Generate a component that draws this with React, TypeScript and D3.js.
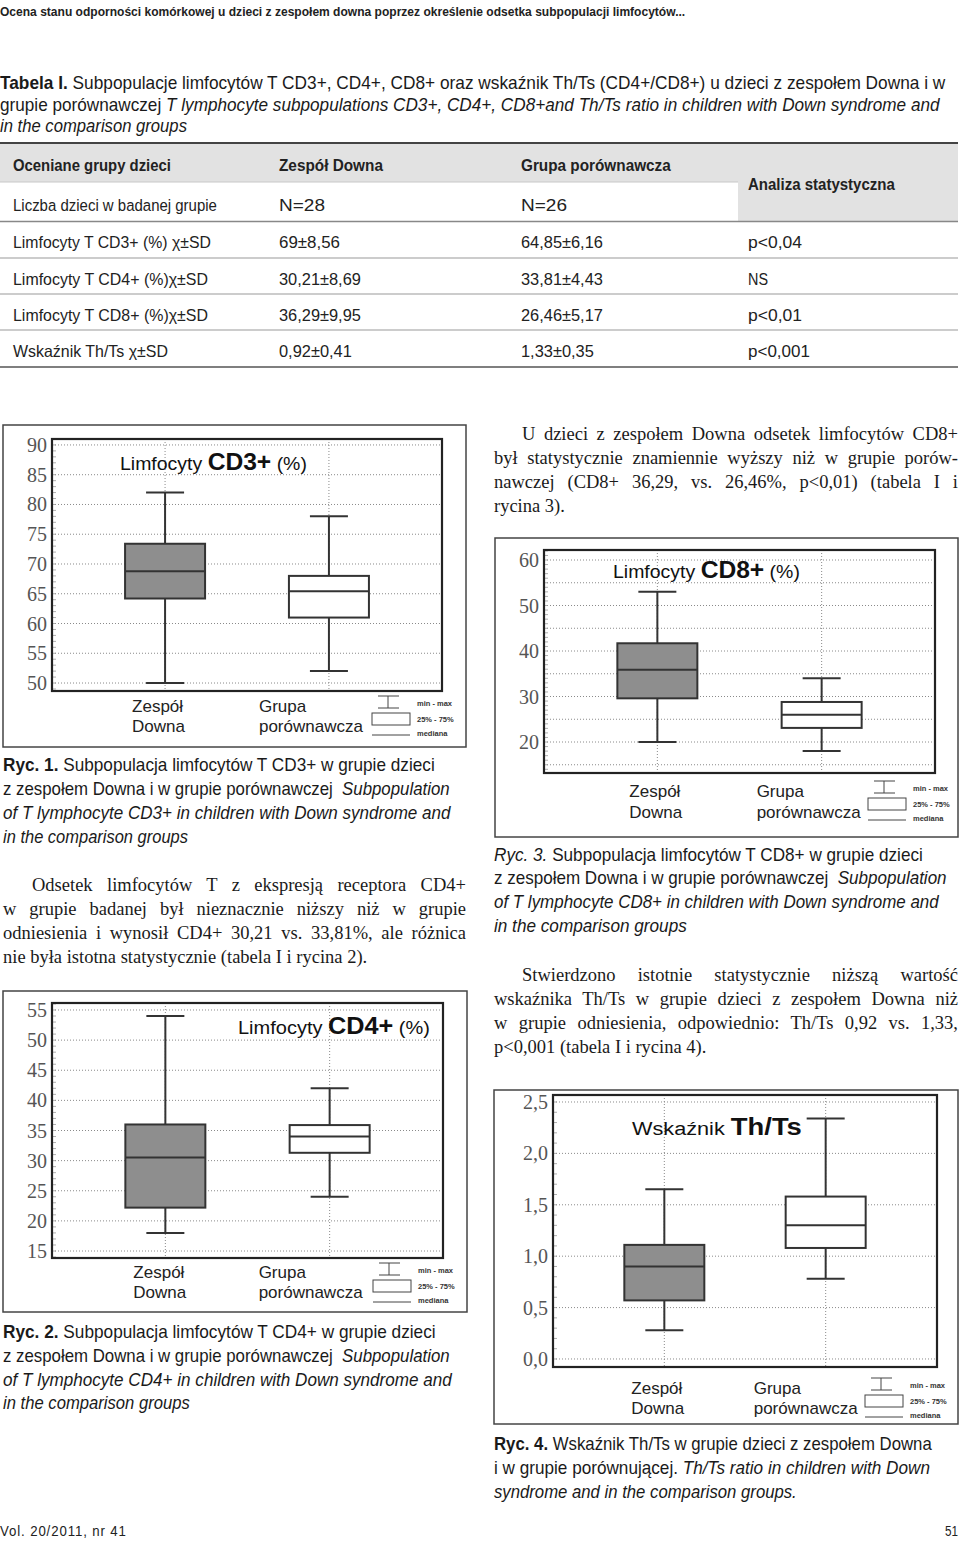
import React, { useLayoutEffect, useRef } from "react";
import * as d3 from "d3";

// ---------------- DATA ----------------
const groups = ["Zespół Downa", "Grupa porównawcza"];
const groupLabelLines = [["Zespół", "Downa"], ["Grupa", "porównawcza"]];
const legendLabels = ["min - max", "25% - 75%", "mediana"];

type Stat = { min: number; q1: number; median: number; q3: number; max: number };

const cd3Stats: Stat[] = [
  { min: 50, q1: 64.2, median: 68.8, q3: 73.4, max: 82 },
  { min: 52, q1: 61, median: 65.4, q3: 68, max: 78 },
];
const cd4Stats: Stat[] = [
  { min: 18, q1: 22.2, median: 30.5, q3: 36, max: 54 },
  { min: 24, q1: 31.3, median: 34, q3: 35.9, max: 42 },
];
const cd8Stats: Stat[] = [
  { min: 20, q1: 29.6, median: 35.9, q3: 41.7, max: 53 },
  { min: 18, q1: 23.1, median: 26, q3: 28.8, max: 34 },
];
const thtsStats: Stat[] = [
  { min: 0.28, q1: 0.57, median: 0.9, q3: 1.11, max: 1.65 },
  { min: 0.78, q1: 1.08, median: 1.3, q3: 1.58, max: 2.34 },
];

const cd3Ticks = [50, 55, 60, 65, 70, 75, 80, 85, 90];
const cd4Ticks = [15, 20, 25, 30, 35, 40, 45, 50, 55];
const cd8Ticks = [20, 30, 40, 50, 60];
const cd8Grid = [15, 20, 25, 30, 35, 40, 45, 50, 55, 60];
const thtsTicks = [0, 0.5, 1, 1.5, 2, 2.5];

const titleCD3 = ["Limfocyty ", "CD3+", " (%)"];
const titleCD4 = ["Limfocyty ", "CD4+", " (%)"];
const titleCD8 = ["Limfocyty ", "CD8+", " (%)"];
const titleThTs = ["Wskaźnik ", "Th/Ts", ""];

const tableHeader = ["Oceniane grupy dzieci", "Zespół Downa", "Grupa porównawcza"];
const tableStatHeader = "Analiza statystyczna";
const tableCount = ["Liczba dzieci w badanej grupie", "N=28", "N=26"];
const tableRows = [
  ["Limfocyty T CD3+ (%) χ±SD", "69±8,56", "64,85±6,16", "p<0,04"],
  ["Limfocyty T CD4+ (%)χ±SD", "30,21±8,69", "33,81±4,43", "NS"],
  ["Limfocyty T CD8+ (%)χ±SD", "36,29±9,95", "26,46±5,17", "p<0,01"],
  ["Wskaźnik Th/Ts χ±SD", "0,92±0,41", "1,33±0,35", "p<0,001"],
];

// ---------------- FONTS / LAYOUT ----------------
const NARROW = "'Liberation Sans Narrow', 'Arial Narrow', 'Liberation Sans', Arial, sans-serif";
const SANS = "'Liberation Sans', Arial, sans-serif";
const SERIF = "'Liberation Serif', 'Times New Roman', serif";

type Seg = { t: string; b?: boolean; i?: boolean; size?: number };

function Txt({ x, y, segs, size, family, fill = "#1a1a1a", w, mode = "scale", anchor = "start", weight, ls }: any) {
  const ref = useRef<SVGTextElement>(null);
  useLayoutEffect(() => {
    const fit = () => {
      const el = ref.current;
      if (!el || !w) return;
      el.removeAttribute("transform");
      el.style.wordSpacing = "";
      const len = el.getComputedTextLength();
      if (!(len > 0)) return;
      if (mode === "justify") {
        const txt = el.textContent || "";
        const n = (txt.match(/ /g) || []).length;
        if (n > 0) el.style.wordSpacing = (w - len) / n + "px";
      } else {
        const s = w / len;
        el.setAttribute("transform", `translate(${x} 0) scale(${s} 1) translate(${-x} 0)`);
      }
    };
    fit();
    (document as any).fonts?.ready?.then(fit);
  });
  const list: Seg[] = typeof segs === "string" ? [{ t: segs }] : segs;
  return (
    <text ref={ref} x={x} y={y} fontSize={size} fontFamily={family} fill={fill} textAnchor={anchor}
      fontWeight={weight} letterSpacing={ls} style={{ whiteSpace: "pre" }}>
      {list.map((s, i) => (
        <tspan key={i} fontWeight={s.b ? "bold" : undefined} fontStyle={s.i ? "italic" : undefined} fontSize={s.size}>
          {s.t}
        </tspan>
      ))}
    </text>
  );
}

const intFmt = (v: number) => String(v);
const commaFmt = (v: number) => d3.format(".1f")(v).replace(".", ",");

const charts = [
  {
    key: "cd3", stats: cd3Stats, ticks: cd3Ticks, grid: cd3Ticks, fmt: intFmt, minor: 1,
    frame: [3, 425, 466, 747], plot: [52, 439, 442, 691], domain: [48.66, 91.0],
    title: { x: 120, y: 470, w: 187, parts: titleCD3 },
    lab: { dx: [-33, -70], y1: 21, y2: 41 }, leg: { dx: -70, dy: 5 },
  },
  {
    key: "cd4", stats: cd4Stats, ticks: cd4Ticks, grid: cd4Ticks, fmt: intFmt, minor: 1,
    frame: [3, 991, 467, 1312], plot: [52, 1003, 443, 1258], domain: [13.84, 56.16],
    title: { x: 238, y: 1034, w: 192, parts: titleCD4 },
    lab: { dx: [-32, -71], y1: 20, y2: 40 }, leg: { dx: -70, dy: 5 },
  },
  {
    key: "cd8", stats: cd8Stats, ticks: cd8Ticks, grid: cd8Grid, fmt: intFmt, minor: 1,
    frame: [495, 538, 958, 837], plot: [544, 550, 935, 773], domain: [13.19, 62.2],
    title: { x: 613, y: 578, w: 187, parts: titleCD8 },
    lab: { dx: [-28, -65], y1: 24, y2: 45 }, leg: { dx: -67, dy: 8 },
  },
  {
    key: "thts", stats: thtsStats, ticks: thtsTicks, grid: thtsTicks, fmt: commaFmt, minor: 0.1,
    frame: [494, 1090, 958, 1424], plot: [553, 1095, 937, 1367], domain: [-0.078, 2.568],
    title: { x: 632, y: 1135, w: 170, parts: titleThTs },
    lab: { dx: [-33, -72], y1: 27, y2: 47 }, leg: { dx: -72, dy: 11 },
  },
];

function BoxChart({ c }: any) {
  const [fl, ft, fr, fb] = c.frame;
  const [pl, pt, pr, pb] = c.plot;
  const y = d3.scaleLinear().domain(c.domain).range([pb, pt]);
  const x = d3.scalePoint<string>().domain(groups).range([pl, pr]).padding(0.69);
  const boxW = 80;
  const capW = 38;
  const ink = "#333";
  const lx = pr + c.leg.dx;
  const ly = pb + c.leg.dy;
  const minorTicks = d3
    .range(Math.ceil(c.domain[0] / c.minor), Math.floor(c.domain[1] / c.minor) + 1)
    .map((k: number) => k * c.minor);
  return (
    <g>
      <rect x={fl} y={ft} width={fr - fl} height={fb - ft} fill="#fff" stroke="#444" strokeWidth={1.5} />
      {c.grid.map((t: number) => (
        <line key={"g" + t} x1={pl} x2={pr} y1={y(t)} y2={y(t)} stroke="#8a8a8a" strokeWidth={1} strokeDasharray="1 2" />
      ))}
      {groups.map((g) => (
        <line key={"v" + g} x1={x(g)} x2={x(g)} y1={pt} y2={pb} stroke="#8a8a8a" strokeWidth={1} strokeDasharray="1 2" />
      ))}
      {minorTicks.map((t: number) => (
        <line key={"m" + t} x1={pl} x2={pl + 4} y1={y(t)} y2={y(t)} stroke="#999" strokeWidth={0.8} />
      ))}
      {c.ticks.map((t: number) => (
        <text key={"t" + t} x={pl - 5} y={y(t)} dy="0.35em" textAnchor="end" fontFamily={SERIF} fontSize={20} fill="#555">
          {c.fmt(t)}
        </text>
      ))}
      {c.stats.map((s: Stat, i: number) => {
        const cx = x(groups[i]) as number;
        return (
          <g key={"b" + i}>
            <line x1={cx} x2={cx} y1={y(s.min)} y2={y(s.max)} stroke={ink} strokeWidth={2} />
            <line x1={cx - capW / 2} x2={cx + capW / 2} y1={y(s.max)} y2={y(s.max)} stroke={ink} strokeWidth={2} />
            <line x1={cx - capW / 2} x2={cx + capW / 2} y1={y(s.min)} y2={y(s.min)} stroke={ink} strokeWidth={2} />
            <rect x={cx - boxW / 2} y={y(s.q3)} width={boxW} height={y(s.q1) - y(s.q3)}
              fill={i === 0 ? "#8e8e8e" : "#fff"} stroke={ink} strokeWidth={2} />
            <line x1={cx - boxW / 2} x2={cx + boxW / 2} y1={y(s.median)} y2={y(s.median)} stroke={ink} strokeWidth={2} />
          </g>
        );
      })}
      <rect x={pl} y={pt} width={pr - pl} height={pb - pt} fill="none" stroke="#222" strokeWidth={2.2} />
      <Txt x={c.title.x} y={c.title.y} w={c.title.w} family={SANS} size={19} fill="#111"
        segs={[{ t: c.title.parts[0] }, { t: c.title.parts[1], b: true, size: 24 }, { t: c.title.parts[2] }]} />
      {groups.map((g, i) => {
        const tx = (x(g) as number) + c.lab.dx[i];
        return (
          <g key={"l" + i} fontFamily={SANS} fontSize={17} fill="#222">
            <text x={tx} y={pb + c.lab.y1}>{groupLabelLines[i][0]}</text>
            <text x={tx} y={pb + c.lab.y2}>{groupLabelLines[i][1]}</text>
          </g>
        );
      })}
      <g transform={`translate(${lx},${ly})`} stroke="#444" strokeWidth={1}>
        <line x1={16} x2={16} y1={0} y2={12} />
        <line x1={6} x2={27} y1={0} y2={0} />
        <line x1={6} x2={27} y1={12} y2={12} />
        <rect x={0} y={17} width={38} height={12} fill="#fff" />
        <line x1={0} x2={38} y1={39} y2={39} />
        {legendLabels.map((t, i) => (
          <text key={t} x={45} y={[7, 23, 37][i]} dy="0.35em" stroke="none" fill="#333" fontFamily={SANS}
            fontSize={7.5} fontWeight="bold">{t}</text>
        ))}
      </g>
    </g>
  );
}

export default function App() {
  const colX = [13, 279, 521, 748];
  const rowBase = [248, 285, 321, 357];
  const rowW = [[198, 61, 82, 54], [195, 82, 82, 20], [195, 82, 82, 54], [155, 73, 73, 62]];
  const ruleY = [258, 294, 330];
  return (
    <svg width={960} height={1543} style={{ position: "absolute", left: 0, top: 0, background: "#fff" }}>
      <rect x={0} y={0} width={960} height={1543} fill="#fff" />
      {/* page header */}
      <Txt x={0} y={16} w={686} size={13.5} family={NARROW} weight="bold" fill="#222"
        segs="Ocena stanu odporności komórkowej u dzieci z zespołem downa poprzez określenie odsetka subpopulacji limfocytów..." />
      {/* table title */}
      <Txt x={0} y={89} w={946} size={17.5} family={NARROW} fill="#1a1a1a"
        segs={[{ t: "Tabela I.", b: true }, { t: " Subpopulacje limfocytów T CD3+, CD4+, CD8+ oraz wskaźnik Th/Ts (CD4+/CD8+) u dzieci z zespołem Downa i w" }]} />
      <Txt x={0} y={111} w={940} size={17.5} family={NARROW} fill="#1a1a1a"
        segs={[{ t: "grupie porównawczej " }, { t: "T lymphocyte subpopulations CD3+, CD4+, CD8+and Th/Ts ratio in children with Down syndrome and", i: true }]} />
      <Txt x={0} y={132} w={187} size={17.5} family={NARROW} fill="#1a1a1a"
        segs={[{ t: "in the comparison groups", i: true }]} />

      {/* table */}
      <rect x={0} y={144} width={958} height={38} fill="#e2e2e2" />
      <rect x={738} y={144} width={220} height={77} fill="#e2e2e2" />
      <line x1={0} x2={738} y1={182} y2={182} stroke="#c8c8c8" strokeWidth={1} />
      <line x1={0} x2={958} y1={143} y2={143} stroke="#444" strokeWidth={2} />
      <line x1={0} x2={958} y1={221.5} y2={221.5} stroke="#888" strokeWidth={1.5} />
      {ruleY.map((ry) => (
        <line key={ry} x1={0} x2={958} y1={ry} y2={ry} stroke="#999" strokeWidth={1.2} />
      ))}
      <line x1={0} x2={958} y1={367} y2={367} stroke="#555" strokeWidth={1.6} />
      {tableHeader.map((t, i) => (
        <Txt key={t} x={colX[i]} y={171} w={[158, 104, 150][i]} size={16.5} family={NARROW} weight="bold" fill="#222" segs={t} />
      ))}
      <Txt x={colX[3]} y={190} w={147} size={16.5} family={NARROW} weight="bold" fill="#222" segs={tableStatHeader} />
      {tableCount.map((t, i) => (
        <Txt key={t} x={colX[i]} y={211} w={[204, 46, 46][i]} size={16.5} family={NARROW} fill="#222" segs={t} />
      ))}
      {tableRows.map((row, r) =>
        row.map((t, i) => (
          <Txt key={r + "-" + i} x={colX[i]} y={rowBase[r]} w={rowW[r][i]} size={16.5} family={NARROW} fill="#222" segs={t} />
        ))
      )}

      {/* charts */}
      {charts.map((c) => (
        <BoxChart key={c.key} c={c} />
      ))}

      {/* right paragraph 1 */}
      <Txt x={522} y={440} w={436} mode="justify" size={18.5} family={SERIF} fill="#1a1a1a" segs="U dzieci z zespołem Downa odsetek limfocytów CD8+" />
      <Txt x={494} y={464} w={464} mode="justify" size={18.5} family={SERIF} fill="#1a1a1a" segs="był statystycznie znamiennie wyższy niż w grupie porów-" />
      <Txt x={494} y={488} w={464} mode="justify" size={18.5} family={SERIF} fill="#1a1a1a" segs="nawczej (CD8+ 36,29, vs. 26,46%, p<0,01) (tabela I i" />
      <Txt x={494} y={512} size={18.5} family={SERIF} fill="#1a1a1a" segs="rycina 3)." />

      {/* Ryc. 1 caption */}
      <Txt x={3} y={771} w={432} size={18} family={NARROW} fill="#1a1a1a" segs={[{ t: "Ryc. 1.", b: true }, { t: " Subpopulacja limfocytów T CD3+ w grupie dzieci" }]} />
      <Txt x={3} y={795} w={447} size={18} family={NARROW} fill="#1a1a1a" segs={[{ t: "z zespołem Downa i w grupie porównawczej  " }, { t: "Subpopulation", i: true }]} />
      <Txt x={3} y={819} w={448} size={18} family={NARROW} fill="#1a1a1a" segs={[{ t: "of T lymphocyte CD3+ in children with Down syndrome and", i: true }]} />
      <Txt x={3} y={843} w={185} size={18} family={NARROW} fill="#1a1a1a" segs={[{ t: "in the comparison groups", i: true }]} />

      {/* left paragraph */}
      <Txt x={32} y={891} w={434} mode="justify" size={18.5} family={SERIF} fill="#1a1a1a" segs="Odsetek limfocytów T z ekspresją receptora CD4+" />
      <Txt x={3} y={915} w={463} mode="justify" size={18.5} family={SERIF} fill="#1a1a1a" segs="w grupie badanej był nieznacznie niższy niż w grupie" />
      <Txt x={3} y={939} w={463} mode="justify" size={18.5} family={SERIF} fill="#1a1a1a" segs="odniesienia i wynosił CD4+ 30,21 vs. 33,81%, ale różnica" />
      <Txt x={3} y={963} size={18.5} family={SERIF} fill="#1a1a1a" segs="nie była istotna statystycznie (tabela I i rycina 2)." />

      {/* Ryc. 3 caption */}
      <Txt x={494} y={861} w={429} size={18} family={NARROW} fill="#1a1a1a" segs={[{ t: "Ryc. 3.", i: true }, { t: " Subpopulacja limfocytów T CD8+ w grupie dzieci" }]} />
      <Txt x={494} y={884} w={453} size={18} family={NARROW} fill="#1a1a1a" segs={[{ t: "z zespołem Downa i w grupie porównawczej  " }, { t: "Subpopulation", i: true }]} />
      <Txt x={494} y={908} w={445} size={18} family={NARROW} fill="#1a1a1a" segs={[{ t: "of T lymphocyte CD8+ in children with Down syndrome and", i: true }]} />
      <Txt x={494} y={932} w={193} size={18} family={NARROW} fill="#1a1a1a" segs={[{ t: "in the comparison groups", i: true }]} />

      {/* right paragraph 2 */}
      <Txt x={522} y={981} w={436} mode="justify" size={18.5} family={SERIF} fill="#1a1a1a" segs="Stwierdzono istotnie statystycznie niższą wartość" />
      <Txt x={494} y={1005} w={464} mode="justify" size={18.5} family={SERIF} fill="#1a1a1a" segs="wskaźnika Th/Ts w grupie dzieci z zespołem Downa niż" />
      <Txt x={494} y={1029} w={464} mode="justify" size={18.5} family={SERIF} fill="#1a1a1a" segs="w grupie odniesienia, odpowiednio: Th/Ts 0,92 vs. 1,33," />
      <Txt x={494} y={1053} size={18.5} family={SERIF} fill="#1a1a1a" segs="p<0,001 (tabela I i rycina 4)." />

      {/* Ryc. 2 caption */}
      <Txt x={3} y={1338} w={433} size={18} family={NARROW} fill="#1a1a1a" segs={[{ t: "Ryc. 2.", b: true }, { t: " Subpopulacja limfocytów T CD4+ w grupie dzieci" }]} />
      <Txt x={3} y={1362} w={447} size={18} family={NARROW} fill="#1a1a1a" segs={[{ t: "z zespołem Downa i w grupie porównawczej  " }, { t: "Subpopulation", i: true }]} />
      <Txt x={3} y={1386} w={449} size={18} family={NARROW} fill="#1a1a1a" segs={[{ t: "of T lymphocyte CD4+ in children with Down syndrome and", i: true }]} />
      <Txt x={3} y={1409} w={187} size={18} family={NARROW} fill="#1a1a1a" segs={[{ t: "in the comparison groups", i: true }]} />

      {/* Ryc. 4 caption */}
      <Txt x={494} y={1450} w={438} size={18} family={NARROW} fill="#1a1a1a" segs={[{ t: "Ryc. 4.", b: true }, { t: " Wskaźnik Th/Ts w grupie dzieci z zespołem Downa" }]} />
      <Txt x={494} y={1474} w={436} size={18} family={NARROW} fill="#1a1a1a" segs={[{ t: "i w grupie porównującej. " }, { t: "Th/Ts ratio in children with Down", i: true }]} />
      <Txt x={494} y={1498} w={303} size={18} family={NARROW} fill="#1a1a1a" segs={[{ t: "syndrome and in the comparison groups.", i: true }]} />

      {/* footer */}
      <Txt x={0} y={1536} w={127} size={15} family={NARROW} fill="#222" ls={1} segs="Vol. 20/2011, nr 41" />
      <Txt x={958} y={1536} w={13} anchor="end" size={15} family={NARROW} fill="#222" segs="51" />
    </svg>
  );
}
